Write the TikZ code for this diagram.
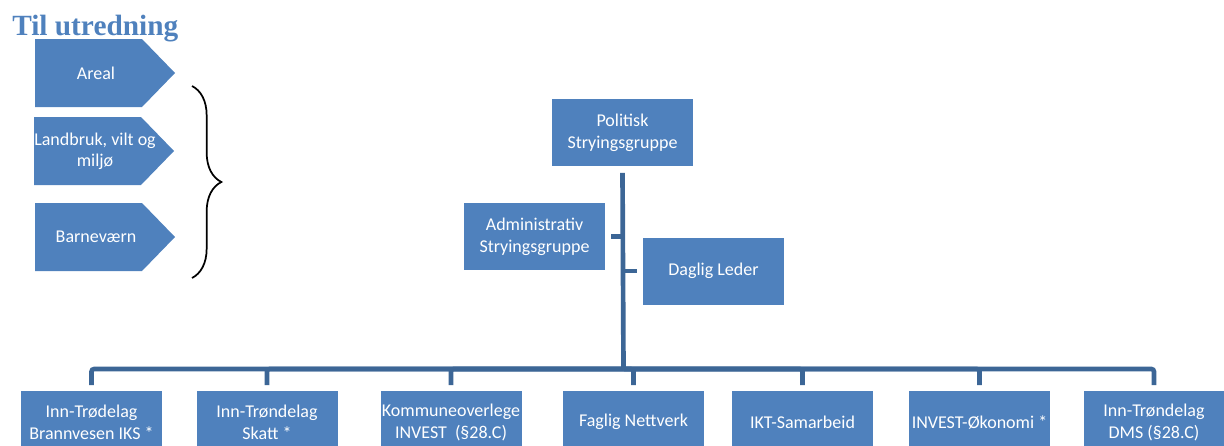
\documentclass[tikz,border=0pt]{standalone}
\usepackage{fontspec}
\setmainfont{Carlito}
\newfontfamily\titlefont{Liberation Serif}
\usetikzlibrary{positioning,shapes,decorations.pathreplacing}
\definecolor{boxblue}{HTML}{4F81BD}
\definecolor{lineblue}{HTML}{3C6696}

\begin{document}
\begin{tikzpicture}[x=0.75pt, y=-0.75pt]
  \clip (0,0) rectangle (1224,446);
  \tikzset{orgbox/.style={rectangle, fill=boxblue, text=white, minimum width=105.75pt, minimum height=50.25pt, inner sep=1pt, align=center, font=\fontsize{13.5}{16.5}\selectfont}}
  \tikzset{unitbox/.style={orgbox, minimum height=46.5pt, anchor=north}}
  \tikzset{conn/.style={draw=lineblue, line width=3.5pt}}
  \tikzset{tag/.style={text=white, align=center, font=\fontsize{13.5}{16}\selectfont}}

  % til utredning
  \node[anchor=base west, inner sep=0, text=boxblue, font=\titlefont\bfseries\fontsize{22}{24}\selectfont] (title) at (12,35) {Til utredning};
  \foreach \n/\x/\y/\t in {areal/35/39/{Areal}, landbruk/34/117/{Landbruk, vilt og\\miljø}, barnevern/35/203/{Barneværn}} {
    \fill[boxblue] (\x,\y) -- ++(107,0) -- ++(33,34) -- ++(-33,34) -- ++(-107,0) -- cycle;
    \node[tag] (\n) at (\x+61,\y+34) {\t};
  }
  \coordinate (bracetop) at (192,86);
  \coordinate (bracebot) at (192,278);
  \draw[decorate, decoration={brace, amplitude=22pt}, line width=1.3pt] (bracetop) -- (bracebot);

  % styring
  \node[orgbox] (politisk) at (622.5,132.5) {Politisk\\Stryingsgruppe};
  \node[orgbox] (admin) at (534.5,236.5) {Administrativ\\Stryingsgruppe};
  \node[orgbox] (daglig) at (713.5,271) {Daglig Leder};
  \coordinate (bar) at (623.5,369);

  % enheter
  \foreach \n/\x/\t in {brann/91.5/{Inn-Trødelag\\Brannvesen IKS *}, skatt/267/{Inn-Trøndelag\\Skatt *},
      overlege/451/{Kommuneoverlege\\INVEST\ \ (§28.C)}, faglig/633.5/{Faglig Nettverk},
      ikt/802.5/{IKT-Samarbeid}, okonomi/979.5/{INVEST-Økonomi *}, dms/1154/{Inn-Trøndelag\\DMS (§28.C)}} {
    \node[unitbox] (\n) at (\x,391) {\t};
    \draw[conn, rounded corners=2pt] (bar) -| ([yshift=4.5pt]\n.north);
  }

  \draw[conn] ([yshift=-5pt]politisk.south) -- (bar);
  \draw[conn] ([xshift=4.5pt]admin.east) -- (admin.east -| bar);
  \draw[conn] ([xshift=-4.5pt]daglig.west) -- (daglig.west -| bar);
\end{tikzpicture}
\end{document}
